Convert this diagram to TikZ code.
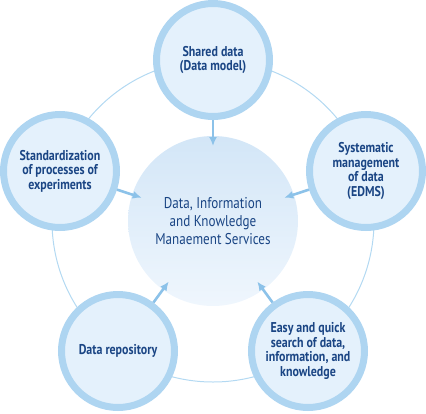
\documentclass[tikz,border=0pt]{standalone}
\usepackage{fontspec}
\setmainfont{PT Sans}
\newfontfamily\condfont[FakeStretch=0.84]{PT Sans}
\usepackage{tikz}
\usetikzlibrary{arrows.meta,calc}
\definecolor{ringblue}{HTML}{B3D9F2}
\definecolor{rimblue}{HTML}{AED5F1}
\definecolor{satfill}{HTML}{E4F1FC}
\definecolor{arrowblue}{HTML}{8CC2E9}
\definecolor{textblue}{HTML}{1A4584}
\definecolor{coretop}{HTML}{D3E6F7}
\definecolor{corebot}{HTML}{EFF6FD}
\tikzset{
  satellite/.style={circle, draw=rimblue, fill=satfill, line width=7pt, minimum size=113pt, inner sep=0pt, align=center, text=textblue, font=\condfont\fontsize{14.2}{14.6}\selectfont\bfseries},
  corebox/.style={circle, minimum size=170pt, inner sep=0pt, align=center, top color=coretop, bottom color=corebot, text=textblue, font=\condfont\fontsize{15.6}{18}\selectfont},
  arrow/.style={-{Latex[length=9pt,width=8pt]}, line width=2.6pt, draw=arrowblue, shorten >=75pt},
  ringline/.style={draw=ringblue, line width=1pt}
}

\begin{document}
\begin{tikzpicture}[x=1pt, y=-1pt]
\useasboundingbox (0,0) rectangle (426,413);
\coordinate (hub) at (213,221);
\draw[ringline] (hub) circle (161pt);
\node[corebox] (core) at (hub) {Data, Information\\and Knowledge\\Manaement Services};
\node[satellite] (shared) at (213,60) {Shared data\\(Data model)};
\node[satellite] (standard) at (60,171) {Standardization\\of processes of\\experiments};
\node[satellite] (edms) at (366,171) {Systematic\\management\\of data\\(EDMS)};
\node[satellite] (repo) at (118,351) {Data repository};
\node[satellite] (search) at (308,351) {Easy and quick\\search of data,\\information, and\\knowledge};
\draw[arrow] (shared) -- (core.center);
\draw[arrow] (standard) -- (core.center);
\draw[arrow] (edms) -- (core.center);
\draw[arrow] (repo) -- (core.center);
\draw[arrow] (search) -- (core.center);
\end{tikzpicture}
\end{document}
